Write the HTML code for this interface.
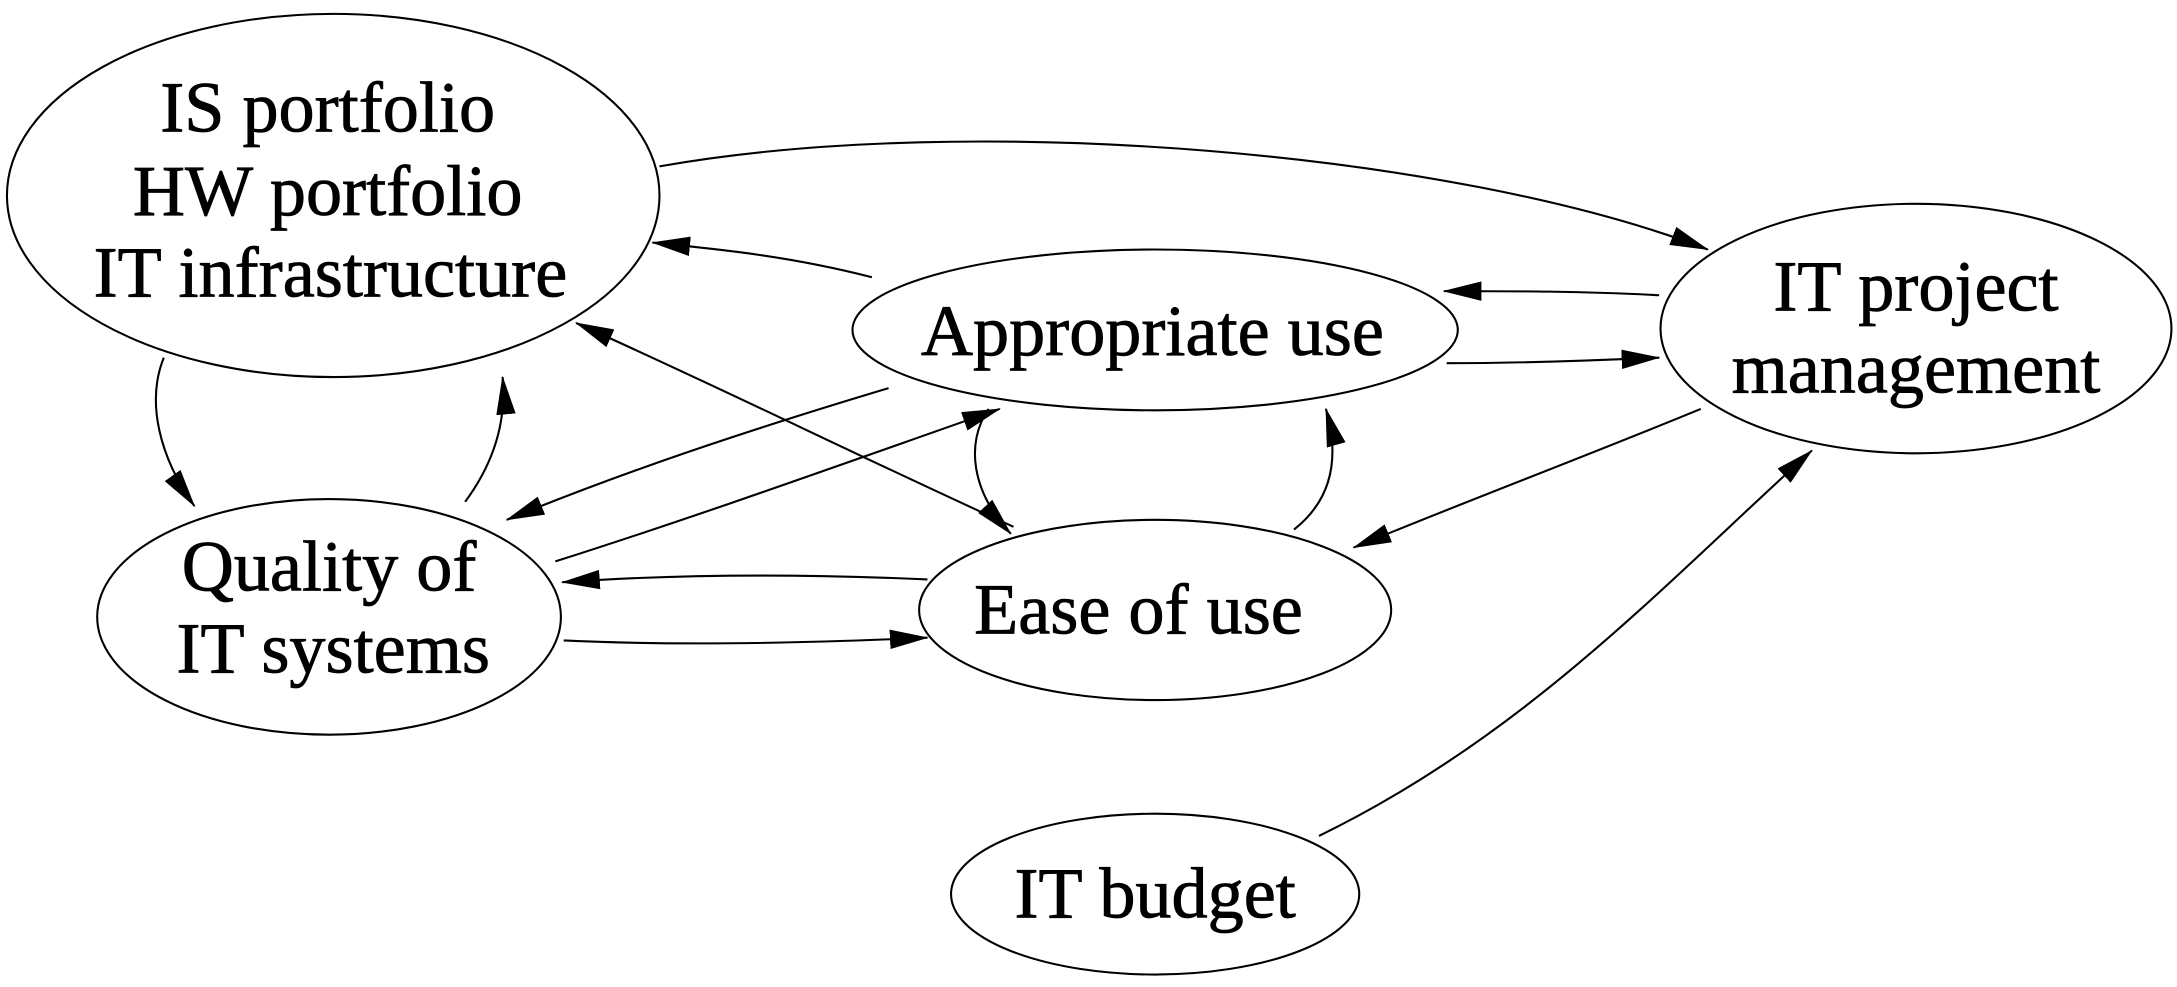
<!DOCTYPE html>
<html><head><style>
html,body{margin:0;padding:0;background:#fff;}
svg{display:block;}
text{font-family:"Liberation Serif",serif;font-size:52px;fill:#000;stroke:#000;stroke-width:0.6;}
</style></head><body>
<svg width="2177" height="987" viewBox="0 0 1568 712" preserveAspectRatio="none" xmlns="http://www.w3.org/2000/svg">
<defs>
<marker id="a" markerWidth="28" markerHeight="14" refX="27" refY="7" orient="auto" markerUnits="userSpaceOnUse">
<path d="M0,0 L28,7 L0,14 Z" fill="#000"/>
</marker>
</defs>
<g fill="none" stroke="#000" stroke-width="1.5">
<ellipse cx="240" cy="141" rx="235" ry="131"/>
<ellipse cx="832" cy="238" rx="218" ry="58"/>
<ellipse cx="1380" cy="237" rx="184" ry="90"/>
<ellipse cx="237" cy="445" rx="167" ry="85"/>
<ellipse cx="832" cy="440" rx="170" ry="65"/>
<ellipse cx="832" cy="645" rx="147" ry="58"/>
</g>
<g fill="none" stroke="#000" stroke-width="1.5" marker-end="url(#a)">
<path d="M475,120 C700,80 1050,110 1230,180"/>
<path d="M628,200 C570,185 520,180 470,175"/>
<path d="M1195,213 C1140,210 1090,210 1040,210"/>
<path d="M1042,262 C1100,262 1150,260 1195,258"/>
<path d="M118,258 C105,290 115,330 140,365"/>
<path d="M335,362 C355,335 365,305 362,272"/>
<path d="M730,380 C620,330 520,280 415,233"/>
<path d="M640,280 C540,310 450,340 365,375"/>
<path d="M400,405 C510,370 620,330 720,295"/>
<path d="M668,418 C580,414 490,414 405,420"/>
<path d="M406,462 C490,466 580,464 668,460"/>
<path d="M712,295 C695,320 700,355 728,385"/>
<path d="M932,382 C960,360 965,330 955,295"/>
<path d="M1225,295 C1140,330 1060,360 975,395"/>
<path d="M950,603 C1100,530 1200,420 1305,325"/>
</g>
<g text-anchor="middle">
<text x="236" y="95">IS portfolio</text>
<text x="236" y="155">HW portfolio</text>
<text x="238" y="214">IT infrastructure</text>
<text x="830" y="256">Appropriate use</text>
<text x="1380" y="224">IT project</text>
<text x="1380" y="283">management</text>
<text x="237" y="426">Quality of</text>
<text x="240" y="485">IT systems</text>
<text x="820" y="457">Ease of use</text>
<text x="832" y="662">IT budget</text>
</g>
</svg>
</body></html>
